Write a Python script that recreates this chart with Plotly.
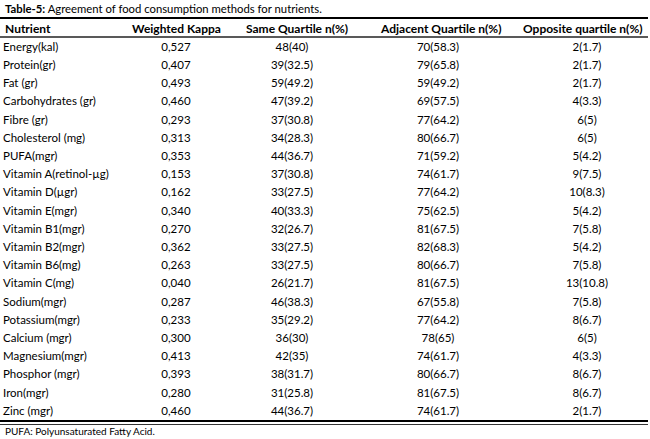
import plotly.graph_objects as go

# table content
nutrients = ["Energy(kal)", "Protein(gr)", "Fat (gr)", "Carbohydrates (gr)", "Fibre (gr)",
             "Cholesterol (mg)", "PUFA(mgr)", "Vitamin A(retinol-µg)", "Vitamin D(µgr)",
             "Vitamin E(mgr)", "Vitamin B1(mgr)", "Vitamin B2(mgr)", "Vitamin B6(mg)",
             "Vitamin C(mg)", "Sodium(mgr)", "Potassium(mgr)", "Calcium (mgr)",
             "Magnesium(mgr)", "Phosphor (mgr)", "Iron(mgr)", "Zinc (mgr)"]
kappa = ["0,527", "0,407", "0,493", "0,460", "0,293", "0,313", "0,353", "0,153", "0,162",
         "0,340", "0,270", "0,362", "0,263", "0,040", "0,287", "0,233", "0,300", "0,413",
         "0,393", "0,280", "0,460"]
same_q = ["48(40)", "39(32.5)", "59(49.2)", "47(39.2)", "37(30.8)", "34(28.3)", "44(36.7)",
          "37(30.8)", "33(27.5)", "40(33.3)", "32(26.7)", "33(27.5)", "33(27.5)", "26(21.7)",
          "46(38.3)", "35(29.2)", "36(30)", "42(35)", "38(31.7)", "31(25.8)", "44(36.7)"]
adjacent_q = ["70(58.3)", "79(65.8)", "59(49.2)", "69(57.5)", "77(64.2)", "80(66.7)",
              "71(59.2)", "74(61.7)", "77(64.2)", "75(62.5)", "81(67.5)", "82(68.3)",
              "80(66.7)", "81(67.5)", "67(55.8)", "77(64.2)", "78(65)", "74(61.7)",
              "80(66.7)", "81(67.5)", "74(61.7)"]
opposite_q = ["2(1.7)", "2(1.7)", "2(1.7)", "4(3.3)", "6(5)", "6(5)", "5(4.2)", "9(7.5)",
              "10(8.3)", "5(4.2)", "7(5.8)", "5(4.2)", "7(5.8)", "13(10.8)", "7(5.8)",
              "8(6.7)", "6(5)", "4(3.3)", "8(6.7)", "8(6.7)", "2(1.7)"]
headers = ["Nutrient", "Weighted Kappa", "Same Quartile n(%)", "Adjacent Quartile n(%)",
           "Opposite quartile n(%)"]

W, H = 650, 439
FONT = "Lato, Roboto, sans-serif"

# column layout (pixels): anchor x and text position
col_x = [3, 176, 292, 438, 587]
head_x = [3, 176, 297, 440, 583]
col_pos = ["middle right", "middle center", "middle center", "middle center", "middle center"]

# row layout: first row centre at 48px, step 18.2px
ROW0, STEP = 48, 18.2
rows = list(range(len(nutrients)))
y_top = -ROW0 / STEP
y_bot = (H - ROW0) / STEP

fig = go.Figure()
for values, x, pos in zip([nutrients, kappa, same_q, adjacent_q, opposite_q], col_x, col_pos):
    fig.add_trace(go.Scatter(
        x=[x] * len(values), y=rows, text=values, mode="text",
        textposition=pos, textfont=dict(family=FONT, size=11.5, color="black"),
        hoverinfo="skip", showlegend=False, cliponaxis=False,
    ))

header_y = (28 - ROW0) / STEP
for h, x, pos in zip(headers, head_x, col_pos):
    fig.add_annotation(text="<b>%s</b>" % h, x=x, y=header_y, showarrow=False,
                       xanchor="left" if pos == "middle right" else "center",
                       yanchor="middle", font=dict(family=FONT, size=12, color="black"))

def rule(y, width, color="black"):
    yv = (y - ROW0) / STEP
    fig.add_shape(type="line", xref="x", yref="y", x0=0, x1=648, y0=yv, y1=yv,
                  line=dict(color=color, width=width))

rule(18, 2.2)
rule(37, 1.6, "#222222")
rule(421, 2)
rule(424.5, 0.8)

fig.add_annotation(text="<b>Table-5:</b> Agreement of food consumption methods for nutrients.",
                   x=3, y=(8 - ROW0) / STEP, xanchor="left", yanchor="middle",
                   showarrow=False, font=dict(family=FONT, size=11.3, color="black"))
fig.add_annotation(text="PUFA: Polyunsaturated Fatty Acid.",
                   x=3, y=(431 - ROW0) / STEP, xanchor="left", yanchor="middle",
                   showarrow=False, font=dict(family=FONT, size=10, color="black"))

fig.update_xaxes(range=[0, W], visible=False, fixedrange=True)
fig.update_yaxes(range=[y_bot, y_top], visible=False, fixedrange=True)
fig.update_layout(width=W, height=H, margin=dict(l=0, r=0, t=0, b=0),
                  paper_bgcolor="white", plot_bgcolor="white")
fig.write_html("out.html", config={"displayModeBar": False},
               post_script="document.body.style.margin = '0';")
